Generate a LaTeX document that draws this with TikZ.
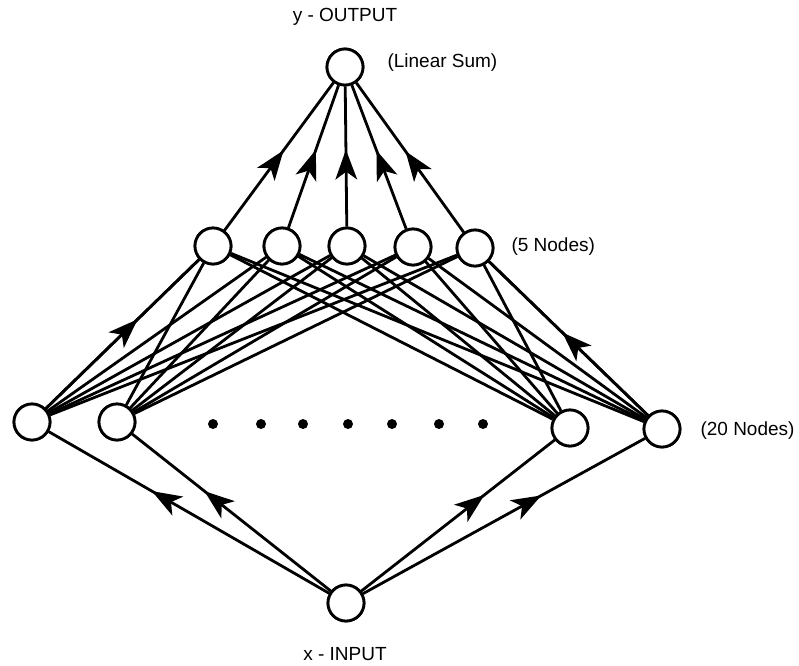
\documentclass[tikz,border=0pt]{standalone}
\usepackage{fontspec}
\setmainfont{Liberation Sans}
\usetikzlibrary{decorations.markings}
\begin{document}
\begin{tikzpicture}[x=1pt,y=-1pt,
  neuron/.style={circle,draw,line width=2.8pt,minimum size=36pt,inner sep=0pt,fill=white},
  conn/.style={line width=2.8pt},
  midarrow/.style={conn,postaction={decorate},decoration={markings,
     mark=at position #1 with {\fill[line width=0pt] (4pt,0pt) -- (-26pt,11pt) -- (-18pt,0pt) -- (-26pt,-11pt) -- cycle;}}},
  lbl/.style={font=\fontsize{19}{21}\selectfont},
  dot/.style={circle,fill=black,inner sep=0pt,minimum size=10pt}]
\useasboundingbox (0,0) rectangle (799,665);
% nodes
\node[neuron] (out) at (345,67) {};
\foreach \i/\x/\y in {1/213/246,2/282/246,3/347/246,4/413/247,5/475/248}
  \node[neuron] (h\i) at (\x,\y) {};
\node[neuron] (a1) at (32,422) {};
\node[neuron] (a2) at (117,422) {};
\node[neuron] (a3) at (570,428) {};
\node[neuron] (a4) at (662,429) {};
\node[neuron] (in) at (346,603) {};
% dots
\foreach \x [count=\k] in {213,261,303,348,392,439,483}
  \node[dot] (d\k) at (\x,424) {};
% labels
\node[lbl] (ty) at (345,17) {y - OUTPUT};
\node[lbl] (tx) at (345,654) {x - INPUT};
\node[lbl,anchor=west] (tlin) at (384,63) {(Linear Sum)};
\node[lbl,anchor=west] (t5) at (508,247) {(5 Nodes)};
\node[lbl,anchor=west] (t20) at (697,431) {(20 Nodes)};
% hidden -> output
\foreach \i in {1,...,5}
  \draw[midarrow=0.52] (h\i) -- (out);
% layer1 -> hidden
\foreach \a in {a1,a2,a3,a4}
  \foreach \i in {1,...,5}
    \draw[conn] (\a) -- (h\i);
\draw[midarrow=0.58] (a1) -- (h1);
\draw[midarrow=0.52] (a4) -- (h5);
% input -> layer1
\foreach \a in {a1,a2,a3,a4}
  \draw[midarrow=0.62] (in) -- (\a);
% redraw circles over lines
\foreach \n in {out,h1,h2,h3,h4,h5,a1,a2,a3,a4,in}
  \draw[line width=2.8pt,fill=white] (\n.center) circle (18pt);
\end{tikzpicture}
\end{document}
